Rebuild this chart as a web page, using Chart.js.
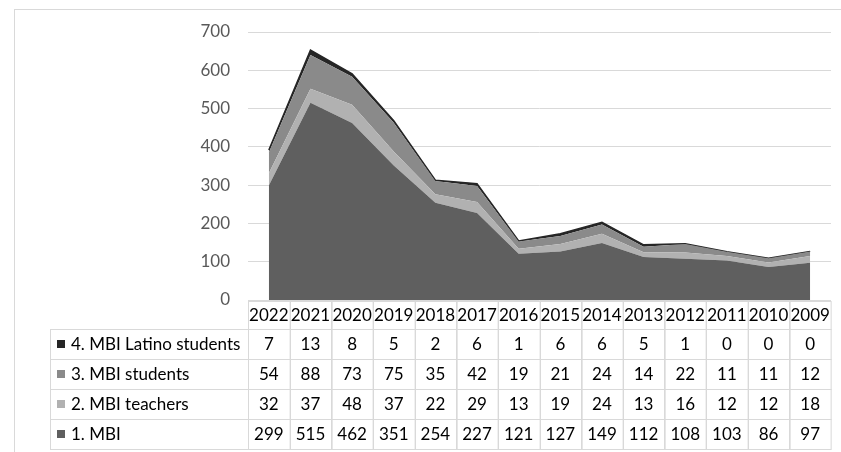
<!DOCTYPE html>
<html>
<head>
<meta charset="utf-8">
<script src="https://cdn.jsdelivr.net/npm/chart.js@4"></script>
<style>
  html, body { margin: 0; background: #fff; }
</style>
</head>
<body>
<canvas id="chart" width="841" height="452"></canvas>
<script>
const years = ['2022','2021','2020','2019','2018','2017','2016','2015','2014','2013','2012','2011','2010','2009'];
const mbi = [299, 515, 462, 351, 254, 227, 121, 127, 149, 112, 108, 103, 86, 97];
const mbiTeachers = [32, 37, 48, 37, 22, 29, 13, 19, 24, 13, 16, 12, 12, 18];
const mbiStudents = [54, 88, 73, 75, 35, 42, 19, 21, 24, 14, 22, 11, 11, 12];
const mbiLatino = [7, 13, 8, 5, 2, 6, 1, 6, 6, 5, 1, 0, 0, 0];
const yTicks = [0, 100, 200, 300, 400, 500, 600, 700];

const FONT = 'Lato, "Open Sans", sans-serif';
const GRID = '#d9d9d9';

const series = [
  { label: '1. MBI', data: mbi, color: '#5f5f5f' },
  { label: '2. MBI teachers', data: mbiTeachers, color: '#b1b1b1' },
  { label: '3. MBI students', data: mbiStudents, color: '#8a8a8a' },
  { label: '4. MBI Latino students', data: mbiLatino, color: '#262626' }
];

// frame round the whole chart
const framePlugin = {
  id: 'frame',
  beforeDraw(chart) {
    const ctx = chart.ctx;
    ctx.save();
    ctx.fillStyle = '#fff';
    ctx.fillRect(0, 0, chart.width, chart.height);
    ctx.strokeStyle = GRID;
    ctx.lineWidth = 1;
    ctx.strokeRect(14.5, 9.5, chart.width + 10, chart.height + 10);
    ctx.restore();
  }
};

// data table under the plot, aligned on the x scale
const tablePlugin = {
  id: 'dataTable',
  afterDraw(chart) {
    const ctx = chart.ctx;
    const x = chart.scales.x;
    const area = chart.chartArea;
    const n = years.length;
    const colW = (area.right - area.left) / n;
    const labelLeft = 50;
    const headTop = area.bottom + 1;
    const headH = 28;
    const rowH = 30;
    const rows = series.slice().reverse();

    ctx.save();
    ctx.strokeStyle = GRID;
    ctx.lineWidth = 1;
    ctx.font = '17px ' + FONT;
    ctx.fillStyle = '#000';
    ctx.textBaseline = 'middle';

    // header cells
    for (let i = 0; i < n; i++) {
      const l = Math.round(area.left + i * colW) + 0.5;
      ctx.strokeRect(l, headTop + 0.5, colW, headH);
      ctx.textAlign = 'center';
      ctx.fillText(years[i], x.getPixelForValue(i), headTop + headH / 2 + 1);
    }

    rows.forEach((s, r) => {
      const top = headTop + headH + r * rowH;
      ctx.strokeRect(labelLeft + 0.5, top + 0.5, area.left - labelLeft, rowH);
      ctx.fillStyle = s.color;
      ctx.fillRect(57, top + rowH / 2 - 4, 8, 8);
      ctx.fillStyle = '#000';
      ctx.textAlign = 'left';
      ctx.fillText(s.label, 71, top + rowH / 2 + 1);
      for (let i = 0; i < n; i++) {
        const l = Math.round(area.left + i * colW) + 0.5;
        ctx.strokeRect(l, top + 0.5, colW, rowH);
        ctx.textAlign = 'center';
        ctx.fillText(String(s.data[i]), x.getPixelForValue(i), top + rowH / 2 + 1);
      }
    });
    ctx.restore();
  }
};

new Chart(document.getElementById('chart'), {
  type: 'line',
  data: {
    labels: years,
    datasets: series.map((s, i) => ({
      label: s.label,
      data: s.data,
      backgroundColor: s.color,
      borderColor: s.color,
      borderWidth: i === 3 ? 1.5 : 0,
      pointRadius: 0,
      tension: 0,
      fill: i === 0 ? 'origin' : '-1'
    }))
  },
  options: {
    responsive: false,
    animation: false,
    devicePixelRatio: 1,
    layout: { padding: { left: 0, right: 10, top: 32, bottom: 152 } },
    plugins: { legend: { display: false }, tooltip: { enabled: false } },
    scales: {
      x: { display: false, offset: true },
      y: {
        stacked: true,
        min: 0,
        max: 700,
        afterFit(scale) { scale.width = 248; },
        afterBuildTicks(scale) { scale.ticks = yTicks.map(v => ({ value: v })); },
        border: { display: false },
        grid: { color: GRID, drawTicks: false },
        ticks: { padding: 18, color: '#595959', font: { family: FONT, size: 17 } }
      }
    }
  },
  plugins: [framePlugin, tablePlugin]
});
</script>
</body>
</html>
